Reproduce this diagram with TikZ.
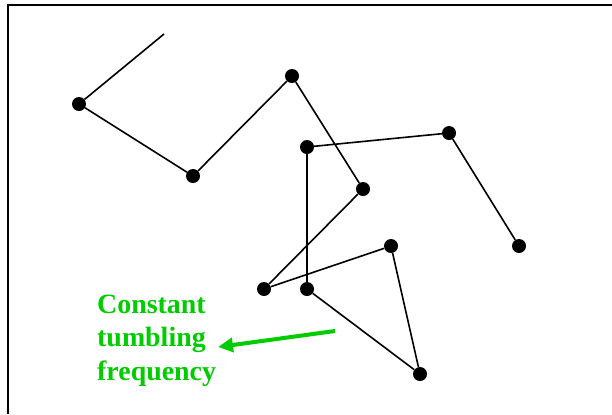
\documentclass[tikz,border=0pt]{standalone}
\usepackage{fontspec}
\setmainfont{Liberation Serif}
\usetikzlibrary{arrows.meta}
\usetikzlibrary{positioning}

\definecolor{tumblegreen}{RGB}{0,204,0}
\tikzset{
  dot/.style={circle,fill=black,inner sep=0pt,minimum size=14bp},
  walk/.style={black,line width=1.6bp},
}

\begin{document}
\begin{tikzpicture}[x=1bp,y=-1bp]
\useasboundingbox (0,0) rectangle (612,414);
\draw[black,line width=2bp] (612,5) -- (8,5) -- (8,414);

% path of the cell
\coordinate (s) at (164,34);
\node[dot] (p1) at (79,104) {};
\node[dot] (p2) at (193,176) {};
\node[dot] (p3) at (292,76) {};
\node[dot] (p4) at (363,189) {};
\node[dot] (p5) at (264,289) {};
\node[dot] (p6) at (391,246) {};
\node[dot] (p7) at (420,374) {};
\node[dot] (p8) at (307,289) {};
\node[dot] (p9) at (307,147) {};
\node[dot] (p10) at (449,133) {};
\node[dot] (p11) at (519,246) {};
\draw[walk] (s) -- (p1) -- (p2) -- (p3) -- (p4) -- (p5) -- (p6) -- (p7) -- (p8) -- (p9) -- (p10) -- (p11);

\node[font=\fontsize{28}{33.5}\selectfont\bfseries,text=tumblegreen,align=left,anchor=base west,inner sep=0pt] (lbl) at (97,380) {Constant\\tumbling\\frequency};
\coordinate (tail) at (335,331);
\coordinate (head) at (218,347);
\draw[tumblegreen,line width=4bp,-{Triangle[length=15bp,width=14bp]}] (tail) -- (head);

\end{tikzpicture}
\end{document}
